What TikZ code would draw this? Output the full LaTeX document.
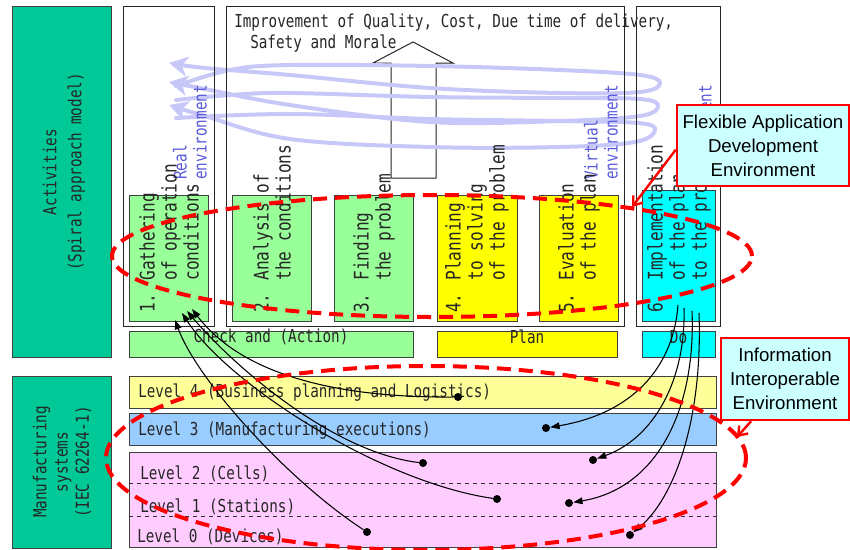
\documentclass[tikz,border=0pt]{standalone}
\usepackage{fontspec}
\setmainfont{DejaVu Sans}
\newfontfamily\gothic[FakeStretch=0.8]{DejaVu Sans Mono}
\newfontfamily\calfont{Liberation Sans}
\usetikzlibrary{arrows.meta,fit,calc}
\definecolor{tealbox}{HTML}{00C896}
\definecolor{lgreen}{HTML}{99FF99}
\definecolor{yel}{HTML}{FFFF00}
\definecolor{cyn}{HTML}{00FFFF}
\definecolor{lvfour}{HTML}{FFFF99}
\definecolor{lvthree}{HTML}{99CCFF}
\definecolor{pinkbox}{HTML}{FFCCFF}
\definecolor{callfill}{HTML}{CCFFFF}
\definecolor{spiralc}{HTML}{C8C8F8}
\definecolor{envblue}{HTML}{5A5ADC}
\definecolor{redd}{HTML}{FF0000}
\begin{document}
\begin{tikzpicture}[x=0.75pt,y=-0.75pt,
  fitbox/.style={inner sep=0pt, draw=black!75, line width=0.75pt},
  frame/.style={inner sep=0pt, draw=black!85, line width=0.75pt},
  mono/.style={font=\gothic\fontsize{13.4}{16}\selectfont, text=black!85, inner sep=0pt},
  steptext/.style={font=\gothic\fontsize{15.1}{16.5}\selectfont, text=black!85, inner sep=0pt, rotate=90, anchor=west, align=left},
  envtext/.style={font=\gothic\fontsize{13.4}{15}\selectfont, text=envblue, inner sep=0pt, rotate=90, anchor=west, align=left},
  spiral/.style={draw=spiralc, line width=3pt, line cap=round, -{Stealth[length=14pt,width=15pt,inset=4pt]}},
  blk/.style={draw=black, line width=0.8pt, -{Triangle[length=7pt,width=5pt]}},
  dot/.style={circle, fill=black, inner sep=0pt, minimum size=6pt},
  reddash/.style={draw=redd, line width=3pt, dash pattern=on 10.5pt off 6pt},
  callout/.style={inner sep=0pt, draw=redd, line width=1.8pt, fill=callfill, align=center, font=\calfont\fontsize{14}{18}\selectfont},
  redptr/.style={draw=redd, line width=1.8pt, -{Straight Barb[length=6pt,width=9pt]}}
]
\useasboundingbox (0,0) rectangle (850,550);

% left category boxes
\node[fitbox, fill=tealbox, fit={(12,6)(111,357)}] (act) {};
\node[mono, rotate=90, align=center, font=\gothic\fontsize{13.4}{18.75}\selectfont] (actlbl) at (64,172) {Activities\\(Spiral approach model)};
\node[fitbox, fill=tealbox, fit={(12,376)(111,548)}] (mfg) {};
\node[mono, rotate=90, align=center, font=\gothic\fontsize{13.4}{16}\selectfont] (mfglbl) at (62,462) {Manufacturing\\systems\\(IEC 62264-1)};

% improvement text and block arrow
\node[mono, anchor=west] (impr1) at (234,23) {Improvement of Quality, Cost, Due time of delivery,};
\node[mono, anchor=west] (impr2) at (250,44) {Safety and Morale};
\draw[black!85, line width=0.75pt] (391,178) -- (391,63) -- (373,63) -- (413,42) -- (453,63) -- (436,63) -- (436,178) -- cycle;

% spiral
\draw[spiral] plot[smooth, tension=0.6] coordinates {(176,118) (290,114) (430,119) (560,121) (638,123) (655,130) (635,142) (560,147) (430,147) (290,139) (205,116) (169,105)};
\draw[spiral] plot[smooth, tension=0.6] coordinates {(176,100) (230,95) (290,93) (430,97) (560,98) (640,99) (658,106) (640,116) (560,121) (430,122) (290,105) (205,89) (169,82)};
\draw[spiral] plot[smooth, tension=0.6] coordinates {(176,86) (230,70) (290,65) (430,66) (560,70) (640,75) (660,83) (640,92) (560,93) (430,88) (290,75) (205,68) (169,63)};

% environment labels
\node[envtext] (realA) at (190,180) {Real\\environment};
\node[envtext] (virt) at (601,180) {Virtual\\environment};
\node[envtext] (realB) at (695,180) {Real\\environment};

% frames
\node[frame, fit={(123,6)(214,326)}] (frA) {};
\node[frame, fit={(226,6)(624,326)}] (frB) {};
\node[frame, fit={(636,6)(720,326)}] (frC) {};

% step boxes
\node[fitbox, fill=lgreen, fit={(129,195)(208,321)}] (st1) {};
\node[fitbox, fill=lgreen, fit={(232,195)(311,321)}] (st2) {};
\node[fitbox, fill=lgreen, fit={(334,195)(413,321)}] (st3) {};
\node[fitbox, fill=yel, fit={(437,195)(517,321)}] (st4) {};
\node[fitbox, fill=yel, fit={(539,195)(618,321)}] (st5) {};
\node[fitbox, fill=cyn, fit={(642,190)(715,321)}] (st6) {};

\node[steptext] (tx1) at (169,313) {1. Gathering\\\phantom{1. }of operation\\\phantom{1. }conditions};
\node[steptext] (tx2) at (272,313) {2. Analysis of\\\phantom{2. }the conditions};
\node[steptext] (tx3) at (374,313) {3. Finding\\\phantom{3. }the problem};
\node[steptext] (tx4) at (477,313) {4. Planning\\\phantom{4. }to solving\\\phantom{4. }of the problem};
\node[steptext] (tx5) at (579,313) {5. Evaluation\\\phantom{5. }of the plan};
\node[steptext] (tx6) at (679,313) {6. Implementation\\\phantom{6. }of the plan\\\phantom{6. }to the problem};

% phase bars
\node[fitbox, fill=lgreen, fit={(129,331)(413,357)}, mono] (check) {Check and (Action)};
\node[fitbox, fill=yel, fit={(437,331)(617,357)}, mono] (plan) {Plan};
\node[fitbox, fill=cyn, fit={(642,331)(715,357)}, mono] (do) {Do};

% levels
\node[fitbox, fill=lvfour, fit={(129,376)(716,408)}] (lv4) {};
\node[fitbox, fill=lvthree, fit={(129,413)(716,445)}] (lv3) {};
\node[fitbox, fill=pinkbox, fit={(129,452)(716,547)}] (lv210) {};
\draw[black!80, dashed, line width=0.6pt] (129,483) -- (716,483);
\draw[black!80, dashed, line width=0.6pt] (129,516) -- (716,516);
\node[mono, anchor=west] (lt4) at (138,393) {Level 4 (Business planning and Logistics)};
\node[mono, anchor=west] (lt3) at (138,431) {Level 3 (Manufacturing executions)};
\node[mono, anchor=west] (lt2) at (140,474) {Level 2 (Cells)};
\node[mono, anchor=west] (lt1) at (140,507) {Level 1 (Stations)};
\node[mono, anchor=west] (lt0) at (137,537) {Level 0 (Devices)};

% connectors from levels up to step 1
\coordinate (ta) at (175,320);
\coordinate (tb) at (182,313);
\coordinate (tc) at (187,311);
\coordinate (td) at (192,309);
\node[dot] (dl4) at (458,397) {};
\node[dot] (dl2) at (423,463) {};
\node[dot] (dl1) at (497,499) {};
\node[dot] (dl0) at (367,532) {};
\draw[blk] (dl4) .. controls (330,398) and (240,372) .. (td);
\draw[blk] (dl2) .. controls (330,452) and (230,362) .. (tc);
\draw[blk] (dl1) .. controls (380,482) and (228,384) .. (tb);
\draw[blk] (dl0) .. controls (290,482) and (198,382) .. (ta);

% connectors from step 6 down to levels
\coordinate (sa) at (678,305);
\coordinate (sb) at (684,308);
\coordinate (sc) at (692,311);
\coordinate (sd) at (699,313);
\node[dot] (e3) at (546,428) {};
\node[dot] (e2) at (593,460) {};
\node[dot] (e1) at (569,503) {};
\node[dot] (e0) at (630,535) {};
\draw[blk] (sa) .. controls (674,360) and (640,412) .. (e3);
\draw[blk] (sb) .. controls (686,380) and (654,438) .. (e2);
\draw[blk] (sc) .. controls (696,405) and (660,488) .. (e1);
\draw[blk] (sd) .. controls (703,425) and (672,500) .. (e0);

% red dashed ellipses
\draw[reddash] (432,256) ellipse [x radius=240pt, y radius=45.75pt];
\draw[reddash] (426,458) ellipse [x radius=240pt, y radius=69pt];

% callouts
\node[callout, fit={(677,105)(849,186)}] (fad) {};
\node[callout, draw=none, fill=none] (fadtxt) at (fad.center) {Flexible Application\\Development\\Environment};
\coordinate (fadtip) at (632,207);
\draw[redptr] ($(fad.north west)!0.55!(fad.south west)$) -- (fadtip);
\node[callout, fit={(721,338)(849,420)}] (iie) {};
\node[callout, draw=none, fill=none] (iietxt) at (iie.center) {Information\\Interoperable\\Environment};
\coordinate (iietip) at (737,437);
\draw[redptr] ($(iie.south west)!0.24!(iie.south east)$) -- (iietip);
\end{tikzpicture}
\end{document}
